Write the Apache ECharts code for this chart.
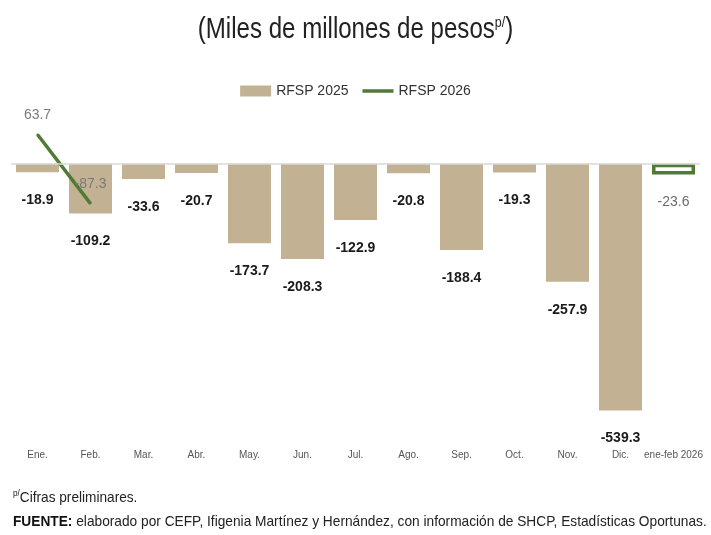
<!DOCTYPE html>
<html>
<head>
<meta charset="utf-8">
<script src="https://cdn.jsdelivr.net/npm/echarts@6/dist/echarts.min.js"></script>
<style>
  html, body { margin: 0; padding: 0; background: #fff; }
  #chart { width: 711px; height: 535px; }
</style>
</head>
<body>
<div id="chart"></div>
<script>
// categorías y valores
const categories = ["Ene.", "Feb.", "Mar.", "Abr.", "May.", "Jun.", "Jul.", "Ago.", "Sep.", "Oct.", "Nov.", "Dic.", "ene-feb 2026"];
const rfsp2025 = [-18.9, -109.2, -33.6, -20.7, -173.7, -208.3, -122.9, -20.8, -188.4, -19.3, -257.9, -539.3, null];
const rfsp2026Line = [63.7, -87.3, null, null, null, null, null, null, null, null, null, null, null];
const rfsp2026Bar = [null, null, null, null, null, null, null, null, null, null, null, null, -23.6];

const font = "'Liberation Sans', Arial, sans-serif";
const tan = "#c2b293";
const green = "#517a37";

const chart = echarts.init(document.getElementById("chart"));
const option = {
  animation: false,
  legend: {
    top: 79,
    left: "center",
    itemWidth: 31,
    itemHeight: 11,
    itemGap: 14,
    textStyle: { fontFamily: font, fontSize: 14, color: "#333" },
    data: [
      { name: "RFSP 2025", icon: "rect" },
      // icono de línea gruesa (puntos mínimos para fijar la caja)
      { name: "RFSP 2026", icon: "path://M0,0h0.05v0.05h-0.05Z M0,3.7h31v3.6h-31Z M0,10.95h0.05v0.05h-0.05Z" }
    ]
  },
  grid: { left: 11, right: 11, top: 127, height: 293 },
  xAxis: {
    type: "category",
    data: categories,
    axisLine: { show: false },
    axisTick: { show: false },
    axisLabel: { interval: 0, margin: 30, fontFamily: font, fontSize: 10, color: "#555" }
  },
  yAxis: {
    type: "value",
    min: -560,
    max: 80,
    show: false,
    splitLine: { show: false }
  },
  series: [
    {
      name: "RFSP 2025",
      type: "bar",
      data: rfsp2025,
      barWidth: 43,
      barGap: "-100%",
      itemStyle: { color: tan },
      label: {
        show: true,
        position: "bottom",
        distance: 21,
        fontFamily: font,
        fontSize: 14,
        fontWeight: "bold",
        color: "#1a1a1a"
      },
      markLine: {
        silent: true,
        symbol: "none",
        label: { show: false },
        lineStyle: { color: "#d9d9d9", width: 1.5, type: "solid" },
        data: [{ yAxis: 0 }]
      },
      z: 2
    },
    {
      name: "RFSP 2026 barra",
      type: "bar",
      data: rfsp2026Bar,
      barWidth: 43,
      barGap: "-100%",
      itemStyle: { color: "#fff", borderColor: green, borderWidth: 3.5 },
      label: {
        show: true,
        position: "bottom",
        distance: 21,
        fontFamily: font,
        fontSize: 14,
        color: "#6b6b6b"
      },
      z: 3
    },
    {
      name: "RFSP 2026",
      type: "line",
      data: rfsp2026Line,
      symbol: "circle",
      symbolSize: 2,
      showSymbol: true,
      lineStyle: { color: green, width: 3.5 },
      itemStyle: { color: green },
      label: {
        show: true,
        position: "top",
        distance: 11,
        fontFamily: font,
        fontSize: 14,
        color: "#7a7a7a"
      },
      z: 4
    }
  ],
  graphic: [
    {
      type: "text",
      x: 355.5,
      y: 15,
      scaleX: 0.83,
      style: {
        text: "(Miles de millones de pesos{sup|p/})",
        align: "center",
        fontFamily: font,
        fontSize: 29,
        fill: "#222",
        rich: {
          sup: { fontFamily: font, fontSize: 15, fill: "#222", verticalAlign: "top", padding: [0, 0, 12, 0] }
        }
      }
    },
    {
      type: "text",
      x: 13,
      y: 489,
      scaleX: 0.91,
      style: {
        text: "{sup|p/}Cifras preliminares.",
        fontFamily: font,
        fontSize: 15,
        fill: "#222",
        rich: { sup: { fontFamily: font, fontSize: 9, fill: "#222", verticalAlign: "top", padding: [0, 0, 8, 0] } }
      }
    },
    {
      type: "text",
      x: 13,
      y: 514,
      scaleX: 0.914,
      style: {
        text: "{b|FUENTE:} elaborado por CEFP, Ifigenia Martínez y Hernández, con información de SHCP, Estadísticas Oportunas.",
        fontFamily: font,
        fontSize: 15,
        fill: "#222",
        rich: { b: { fontFamily: font, fontSize: 15, fontWeight: "bold", fill: "#111" } }
      }
    }
  ]
};
chart.setOption(option);
window.addEventListener("resize", () => chart.resize());
</script>
</body>
</html>
